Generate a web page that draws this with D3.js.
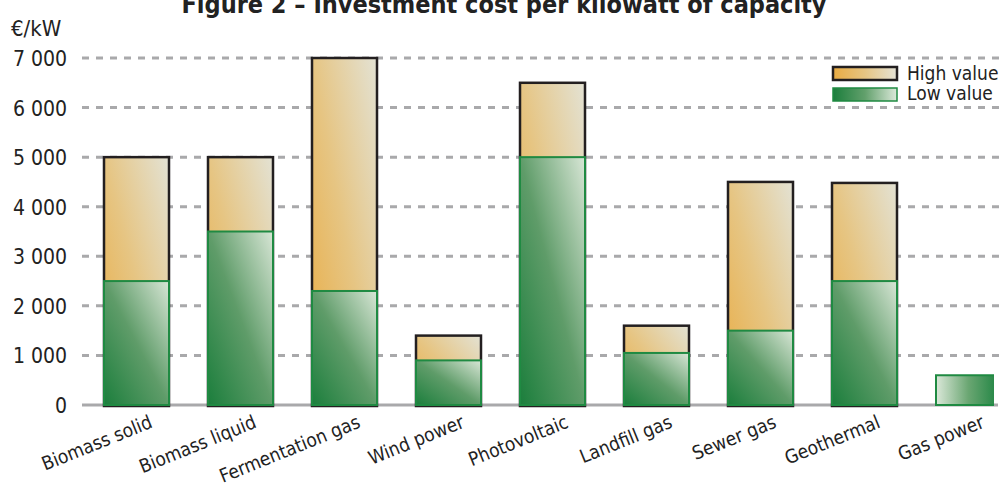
<!DOCTYPE html>
<html><head><meta charset="utf-8">
<script src="https://cdn.jsdelivr.net/npm/d3@7"></script>
<style>body{margin:0;background:#fff}svg{display:block}</style>
</head><body>
<svg id="c" width="1000" height="497"></svg>
<script>
const categories = ["Biomass solid","Biomass liquid","Fermentation gas","Wind power","Photovoltaic","Landfill gas","Sewer gas","Geothermal","Gas power"];
const highValues = [5000,5000,7000,1400,6500,1600,4500,4480,null];
const lowValues  = [2500,3500,2300,900,5000,1050,1500,2500,600];
const yTicks = [0,1000,2000,3000,4000,5000,6000,7000];
const seriesNames = ["High value","Low value"];
const title = "Figure 2 – Investment cost per kilowatt of capacity";
const unit = "€/kW";

const svg = d3.select("#c");
const font = "'DejaVu Sans Condensed','DejaVu Sans',sans-serif";
const defs = svg.append("defs");
function grad(id, x1,y1,x2,y2, c1, c2, mid){
  const g = defs.append("linearGradient").attr("id",id)
    .attr("x1",x1).attr("y1",y1).attr("x2",x2).attr("y2",y2);
  g.append("stop").attr("offset","0%").attr("stop-color",c1);
  if (mid) g.append("stop").attr("offset","50%").attr("stop-color",mid);
  g.append("stop").attr("offset","100%").attr("stop-color",c2);
}
grad("gHigh",0,1,1,0,"#e9ac43","#e3e2d4","#e6c583");
grad("gLow",0,1,1,0,"#1b7e3c","#d8e6d6","#5f9c69");
grad("gGas",0,0,1,0,"#dbe8d9","#1a823f","#6aa672");
grad("lHigh",0,0,1,0,"#e9ac43","#e5e3d6","#e6c583");
grad("lLow",0,0,1,0,"#1b7e3c","#dce9da","#62a06c");
defs.append("clipPath").attr("id","clip").append("rect")
  .attr("x",0).attr("y",0).attr("width",994).attr("height",497);

const y = d3.scaleLinear().domain([0,7000]).range([405,58]);
const x = d3.scaleBand().domain(categories).range([84.5,84.5+9*104]).paddingInner(0.375).paddingOuter(0.1875);

// title
svg.append("text").attr("x",504).attr("y",13).attr("text-anchor","middle")
  .attr("font-family",font).attr("font-weight","bold").attr("font-size",25)
  .attr("fill","#222").text(title);
svg.append("text").attr("x",11).attr("y",36).attr("font-family",font)
  .attr("font-size",22).attr("fill","#222").text(unit);

// y axis labels
const yAxis = d3.axisLeft(y).tickValues(yTicks).tickSize(0).tickPadding(0)
  .tickFormat(d => d3.format(",")(d).replace(/,/g," "));
const ya = svg.append("g").attr("transform","translate(67,0)").call(yAxis);
ya.select(".domain").remove();
ya.selectAll("text").attr("font-family",font).attr("font-size",21).attr("fill","#222").attr("dy","0.36em");

// gridlines
svg.append("g").selectAll("line").data(yTicks.filter(d=>d>0)).join("line")
  .attr("x1",82).attr("x2",1000).attr("y1",d=>y(d)).attr("y2",d=>y(d))
  .attr("stroke","#a9a9ab").attr("stroke-width",3).attr("stroke-dasharray","7,7");
svg.append("line").attr("x1",82).attr("x2",998).attr("y1",y(0)).attr("y2",y(0))
  .attr("stroke","#a9a9ab").attr("stroke-width",3);

// bars
const bars = svg.append("g").attr("clip-path","url(#clip)");
const hi = categories.map((c,i)=>({c,v:highValues[i]})).filter(d=>d.v!=null);
bars.selectAll("rect.h").data(hi).join("rect").attr("class","h")
  .attr("x",d=>x(d.c)).attr("width",x.bandwidth())
  .attr("y",d=>y(d.v)).attr("height",d=>y(0)-y(d.v)+1)
  .attr("fill","url(#gHigh)").attr("stroke","#231f20").attr("stroke-width",2.5);
const lo = categories.map((c,i)=>({c,v:lowValues[i],gas:highValues[i]==null}));
bars.selectAll("rect.l").data(lo).join("rect").attr("class","l")
  .attr("x",d=>x(d.c)).attr("width",x.bandwidth())
  .attr("y",d=>y(d.v)).attr("height",d=>y(0)-y(d.v))
  .attr("fill",d=>d.gas?"url(#gGas)":"url(#gLow)").attr("stroke","#1f8a42").attr("stroke-width",2);

// category labels
svg.append("g").selectAll("text").data(categories).join("text")
  .attr("transform",d=>`translate(${x(d)+x.bandwidth()/2+17},${427}) rotate(-22)`)
  .attr("text-anchor","end").attr("font-family",font).attr("font-size",19)
  .attr("fill","#222").text(d=>d);

// legend
const lg = svg.append("g");
lg.append("rect").attr("x",826).attr("y",62).attr("width",174).attr("height",44).attr("fill","#fff");
lg.append("rect").attr("x",833).attr("y",67).attr("width",64).attr("height",13)
  .attr("fill","url(#lHigh)").attr("stroke","#231f20").attr("stroke-width",2.5);
lg.append("rect").attr("x",833).attr("y",88).attr("width",64).attr("height",13)
  .attr("fill","url(#lLow)").attr("stroke","#1f8a42").attr("stroke-width",1.5);
lg.selectAll("text").data(seriesNames).join("text")
  .attr("x",907).attr("y",(d,i)=>80+i*20).attr("font-family",font).attr("font-size",19)
  .attr("fill","#222").text(d=>d);
</script>
</body></html>
